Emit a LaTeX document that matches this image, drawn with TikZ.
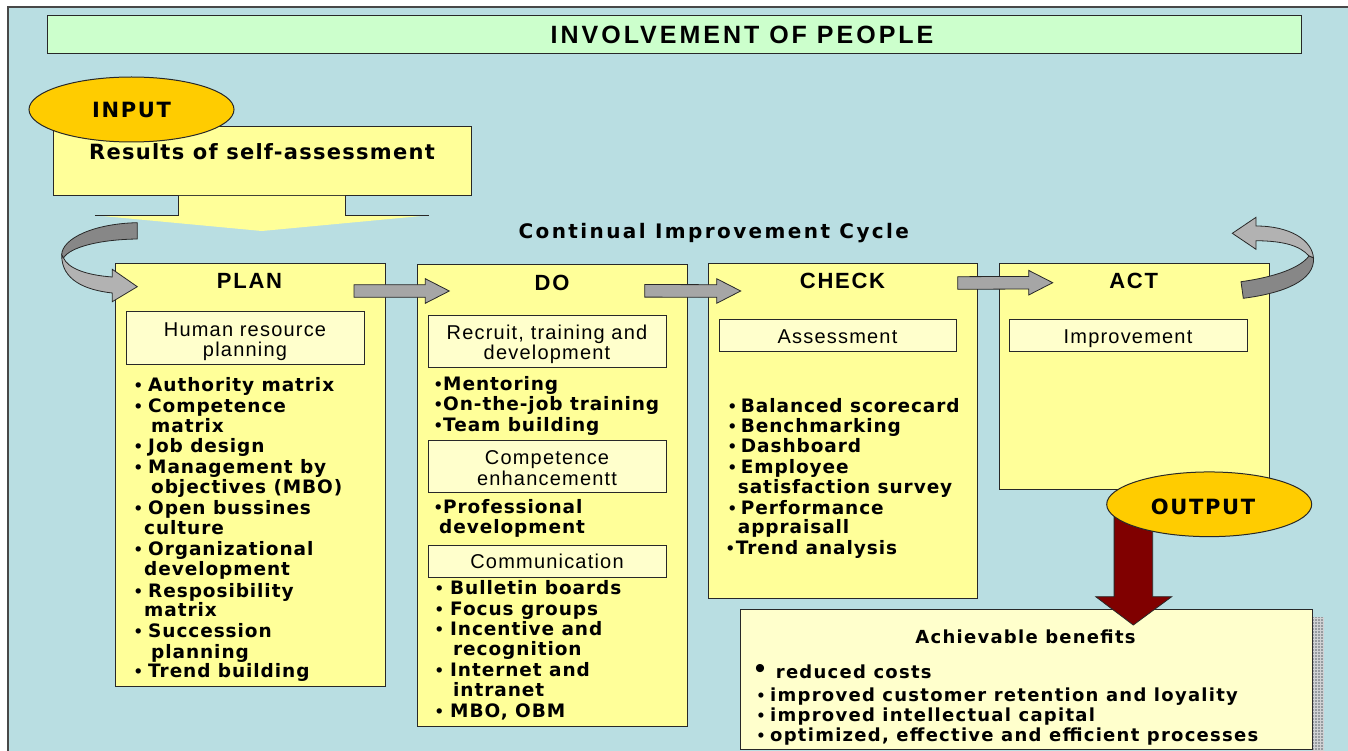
\documentclass[tikz,border=0pt]{standalone}
\usepackage{fontspec}
\usetikzlibrary{shapes.geometric,calc}
\setmainfont{Liberation Sans}
\newfontfamily\dvb{DejaVu Sans}
\newfontfamily\lib{Liberation Sans}
\definecolor{bgblue}{RGB}{185,222,226}
\definecolor{titlegreen}{RGB}{204,255,204}
\definecolor{boxyellow}{RGB}{255,255,153}
\definecolor{subyellow}{RGB}{255,255,204}
\definecolor{gold}{RGB}{255,204,0}
\definecolor{darkred}{RGB}{128,0,0}
\definecolor{arrgray}{RGB}{166,166,166}
\definecolor{ribdark}{RGB}{135,135,135}
\definecolor{riblight}{RGB}{178,178,178}
\definecolor{lineclr}{RGB}{40,40,40}
\definecolor{shadowc}{RGB}{150,156,160}
\newcommand\FB[2]{\fontsize{#1}{#1}\dvb\bfseries\addfontfeatures{LetterSpace=#2}}
\newcommand\FL[2]{\fontsize{#1}{#1}\lib\addfontfeatures{LetterSpace=#2}}
\newcommand\FLB[2]{\fontsize{#1}{#1}\lib\bfseries\addfontfeatures{LetterSpace=#2}}
\newcommand\bl[1]{\makebox[#1][l]{\lib •}}
\tikzset{
 bx/.style={draw=lineclr, line width=1pt, fill=boxyellow, inner sep=0pt, anchor=north west},
 sbx/.style={draw=lineclr, line width=1pt, fill=subyellow, inner sep=0pt, anchor=north west},
 txt/.style={inner sep=0pt, anchor=base},
 lst/.style={inner sep=0pt, anchor=base west, font=\FB{18.5}{5}},
 lbl/.style={inner sep=0pt, anchor=base, font=\FL{20}{6}},
 hd/.style={inner sep=0pt, anchor=base, font=\FLB{22}{8}},
 ben/.style={inner sep=0pt, anchor=base west, font=\FB{18}{7}},
 garr/.style={draw=lineclr, line width=0.8pt, fill=arrgray},
 ell/.style={ellipse, draw=lineclr, line width=1pt, fill=gold, inner sep=0pt},
 rib/.style={draw=lineclr, line width=0.8pt},
}
\newcommand\barrow[2]{\draw[garr] ($(#1)+(0,-6.3)$) -- ($(#2)+(-24,-6.3)$) -- ($(#2)+(-24,-12.3)$) -- (#2) -- ($(#2)+(-24,12.3)$) -- ($(#2)+(-24,6.3)$) -- ($(#1)+(0,6.3)$) -- cycle;}
\begin{document}
\begin{tikzpicture}[x=1pt,y=-1pt]
\useasboundingbox (0,0) rectangle (1348,751);
\fill[white] (0,0) rectangle (1348,751);
\filldraw[fill=bgblue, draw=lineclr!85, line width=1.5pt] (8,7) rectangle (1370,770);
% title
\node[draw=lineclr, line width=1pt, fill=titlegreen, inner sep=0pt, anchor=north west, minimum width=1254pt, minimum height=38pt] (title) at (47,14.7) {};
\node[txt, font=\FLB{25}{12}] (titletext) at (742,43.5) {INVOLVEMENT OF PEOPLE};
% input
\node[bx, minimum width=418pt, minimum height=69pt] (inbox) at (53,126) {};
\node[txt, font=\FB{21}{6}] (intext) at (262,160) {Results of self-assessment};
\coordinate (ya) at ($(inbox.south)+(-0.7,0)$);
\fill[boxyellow] ($(ya)+(-83.3,0)$) -- ($(ya)+(-83.3,19.3)$) -- ($(ya)+(-167,19.3)$) -- ($(ya)+(0,35)$) -- ($(ya)+(167,19.3)$) -- ($(ya)+(83.3,19.3)$) -- ($(ya)+(83.3,0)$) -- cycle;
\draw[lineclr, line width=1pt] ($(ya)+(-167,19.3)$) -- ($(ya)+(-83.3,19.3)$) -- ($(ya)+(-83.3,0)$);
\draw[lineclr, line width=1pt] ($(ya)+(167,19.3)$) -- ($(ya)+(83.3,19.3)$) -- ($(ya)+(83.3,0)$);
\node[ell, minimum width=205pt, minimum height=65pt, font=\FB{21}{8}] (inp) at (131.5,109.5) {INPUT};
% cycle label
\node[txt, font=\FB{20}{12}] (cyc) at (713.8,238.5) {Continual Improvement Cycle};
% main boxes
\node[bx, minimum width=270pt, minimum height=423.3pt] (plan) at (115.3,262.7) {};
\node[bx, minimum width=270pt, minimum height=461.4pt] (do) at (416.7,264.3) {};
\node[bx, minimum width=269pt, minimum height=335pt] (check) at (708.3,262.7) {};
\node[bx, minimum width=269.7pt, minimum height=226.3pt] (act) at (999,262.7) {};
% sub boxes
\node[sbx, minimum width=237.7pt, minimum height=52.7pt] (hr) at (126.3,311) {};
\node[sbx, minimum width=237.7pt, minimum height=52.3pt] (rtd) at (428,315) {};
\node[sbx, minimum width=237.7pt, minimum height=52pt] (comp) at (428,440) {};
\node[sbx, minimum width=237.7pt, minimum height=32pt] (comm) at (428,544.7) {};
\node[sbx, minimum width=237.3pt, minimum height=32pt] (assess) at (718.7,319) {};
\node[sbx, minimum width=238pt, minimum height=32pt] (impr) at (1009.3,319) {};
% headings
\node[hd] (planh) at (249.5,288.8) {PLAN};
\node[hd] (doh) at (552,290.5) {DO};
\node[hd] (checkh) at (842.5,288.8) {CHECK};
\node[hd] (acth) at (1133.7,288.8) {ACT};
% sub labels
\node[lbl] (hr1) at (245,336.2) {Human resource};
\node[lbl] (hr2) at (245,356.2) {planning};
\node[lbl] (rtd1) at (547,339.5) {Recruit, training and};
\node[lbl] (rtd2) at (547,359.5) {development};
\node[lbl] (comp1) at (547,464.2) {Competence};
\node[lbl] (comp2) at (547,485.2) {enhancementt};
\node[lbl] (comm1) at (547,568.2) {Communication};
\node[lbl] (assess1) at (837.5,343.9) {Assessment};
\node[lbl] (impr1) at (1128,343.9) {Improvement};
% PLAN list
\foreach \tx/\xx/\yy [count=\i] in {
 {\bl{13pt}Authority matrix}/135/391.7,
 {\bl{13pt}Competence}/135/412.7,
 {matrix}/151/432.7,
 {\bl{13pt}Job design}/135/452.7,
 {\bl{13pt}Management by}/135/473.7,
 {objectives (MBO)}/151/493.7,
 {\bl{13pt}Open bussines}/135/514.7,
 {culture}/144/534.7,
 {\bl{13pt}Organizational}/135/555.7,
 {development}/144/575.7,
 {\bl{13pt}Resposibility}/135/597.7,
 {matrix}/144/616.7,
 {\bl{13pt}Succession}/135/637.7,
 {planning}/151/658.7,
 {\bl{13pt}Trend building}/135/677.7}
 \node[lst] (pl\i) at (\xx,\yy) {\tx};
% DO list
\foreach \tx/\xx/\yy [count=\i] in {
 {\bl{8pt}Mentoring}/435/390.7,
 {\bl{8pt}On-the-job training}/435/410.7,
 {\bl{8pt}Team building}/435/431.7,
 {\bl{8pt}Professional}/435/513.7,
 {development}/439/533.7,
 {\bl{14pt}Bulletin boards}/436/594.7,
 {\bl{14pt}Focus groups}/436/615.7,
 {\bl{14pt}Incentive and}/436/635.7,
 {recognition}/453/655.7,
 {\bl{14pt}Internet and}/436/676.7,
 {intranet}/453/696.7,
 {\bl{14pt}MBO, OBM}/436/717.7}
 \node[lst] (dl\i) at (\xx,\yy) {\tx};
% CHECK list
\foreach \tx/\xx/\yy [count=\i] in {
 {\bl{11.7pt}Balanced scorecard}/729/412.4,
 {\bl{11.7pt}Benchmarking}/729/432.4,
 {\bl{11.7pt}Dashboard}/729/452.7,
 {\bl{11.7pt}Employee}/729/473.7,
 {satisfaction survey}/737.7/493.7,
 {\bl{11.7pt}Performance}/729/514.4,
 {appraisall}/737.7/533.7,
 {\bl{8.7pt}Trend analysis}/727/554.7}
 \node[lst] (cl\i) at (\xx,\yy) {\tx};
% straight arrows
\coordinate (a1s) at ($(plan.north east)+(-32.3,28.3)$);
\coordinate (a1e) at ($(do.north west)+(32.6,26.7)$);
\coordinate (a2s) at ($(do.north east)+(-43,26.5)$);
\coordinate (a2e) at ($(check.north west)+(32.4,28.3)$);
\coordinate (a3s) at ($(check.north east)+(-20.6,20.3)$);
\coordinate (a3e) at ($(act.north west)+(53.7,20)$);
\barrow{a1s}{a1e}
\barrow{a2s}{a2e}
\barrow{a3s}{a3e}
% left curved arrow
\filldraw[rib, fill=ribdark] (137.3,222.7) .. controls (95,223.5) and (62,238) .. (61.7,255) -- (63.5,258) .. controls (70,247) and (100,239.5) .. (137.3,239) -- cycle;
\filldraw[rib, fill=riblight] (61.7,255) .. controls (61.5,280) and (85,290) .. (112.3,293) -- (112.3,301.7) -- (137.3,286.7) -- (112.3,269.3) -- (112.3,277) .. controls (85,275) and (68,268) .. (63.5,258) -- cycle;
% right curved arrow
\filldraw[rib, fill=riblight] (1256,226) .. controls (1290,226) and (1312,240) .. (1313.5,258) -- (1309,256) .. controls (1300,246) and (1285,241) .. (1256,240.7) -- (1256,249.3) -- (1232.3,233.3) -- (1256,217.3) -- cycle;
\filldraw[rib, fill=ribdark] (1313.5,258) .. controls (1315,280) and (1285,293) .. (1243.3,298.3) -- (1241,281.7) .. controls (1275,277) and (1300,268) .. (1309,256) -- cycle;
% benefits
\fill[shadowc] (1312,617) rectangle (1324,751);
\draw[white!55!shadowc, line width=0.5pt, step=3pt] (1312,617) grid (1324,751);
\node[sbx, minimum width=572pt, minimum height=140pt] (ben) at (740,609) {};
\node[txt, font=\FB{18}{7}] (bt) at (1025.5,643.3) {Achievable benefits};
\node[inner sep=0pt, anchor=base, font=\fontsize{30}{30}\lib] (bb) at (760,678) {•};
\node[ben] (b1) at (775.7,678.3) {reduced costs};
\node[ben] (b2) at (757.7,701.6) {\bl{12.3pt}improved customer retention and loyality};
\node[ben] (b3) at (757.7,721.6) {\bl{12.3pt}improved intellectual capital};
\node[ben] (b4) at (757.7,741.6) {\bl{12.3pt}optimized, effective and efficient processes};
% output arrow
\coordinate (rtip) at ($(ben.north west)+(393.3,16)$);
\filldraw[fill=darkred, draw=lineclr, line width=0.8pt] ($(rtip)+(-19.2,-110)$) -- ($(rtip)+(-19.2,-28.3)$) -- ($(rtip)+(-37.6,-28.3)$) -- (rtip) -- ($(rtip)+(38.4,-28.3)$) -- ($(rtip)+(19.4,-28.3)$) -- ($(rtip)+(19.4,-110)$) -- cycle;
\node[ell, minimum width=205pt, minimum height=64.7pt] (outp) at (1209.2,504.3) {};
\node[txt, font=\FB{21}{8}] (outtext) at (1203,514.5) {OUTPUT};
\end{tikzpicture}
\end{document}
